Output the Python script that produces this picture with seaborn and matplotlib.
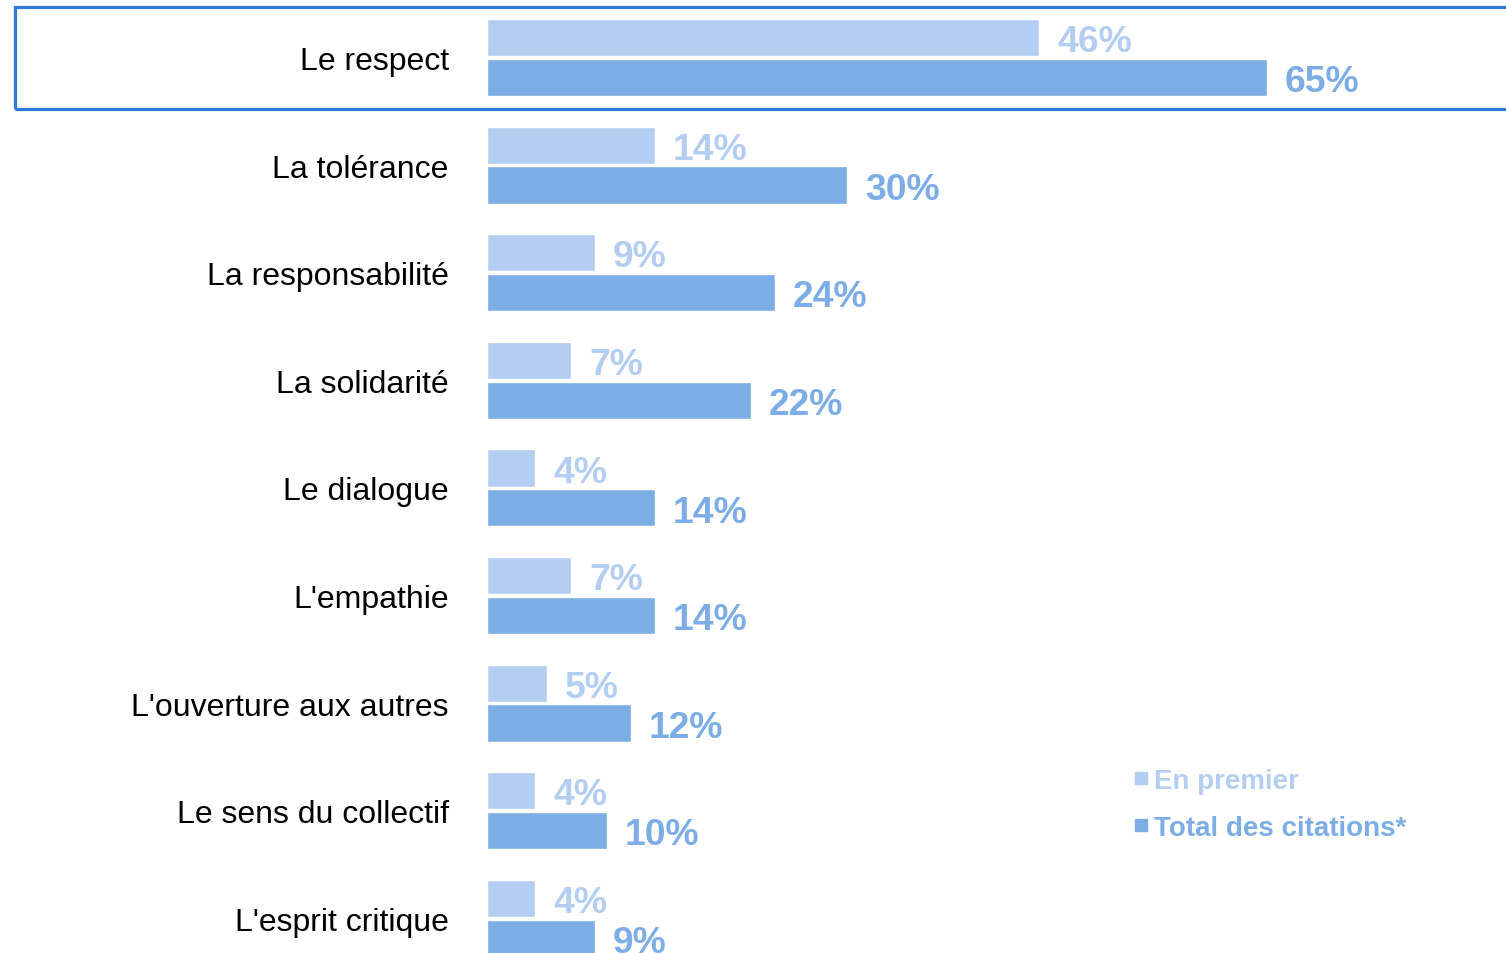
import matplotlib
matplotlib.use("Agg")
import matplotlib.pyplot as plt
import seaborn as sns
import pandas as pd
from matplotlib.lines import Line2D
from matplotlib.patches import Rectangle

categories = ["Le respect", "La tolérance", "La responsabilité", "La solidarité",
              "Le dialogue", "L'empathie", "L'ouverture aux autres",
              "Le sens du collectif", "L'esprit critique"]
en_premier = [46, 14, 9, 7, 4, 7, 5, 4, 4]
total_citations = [65, 30, 24, 22, 14, 14, 12, 10, 9]
series_names = ["En premier", "Total des citations*"]

LIGHT = "#B3CEF1"
DARK = "#7DADE6"
BOX = "#2F7AD6"

df = pd.DataFrame({
    "cat": categories * 2,
    "val": en_premier + total_citations,
    "serie": [series_names[0]] * len(categories) + [series_names[1]] * len(categories),
})

sns.set_theme(style="white")
plt.rcParams["font.family"] = ["Liberation Sans", "DejaVu Sans"]

W, H = 1506, 954
fig = plt.figure(figsize=(W / 100, H / 100), dpi=100)
ax_left = 487 / W
ax = fig.add_axes([ax_left, 0, 1 - ax_left, 1])

sns.barplot(data=df, y="cat", x="val", hue="serie", order=categories,
            hue_order=series_names, palette=[LIGHT, DARK], orient="h",
            width=0.743, gap=0.07, legend=False, ax=ax, saturation=1)

px_per_pct = 12.0
ax.set_xlim(0, (W - 487) / px_per_pct)
row_px = 107.6
c0 = 58.5
ax.set_ylim((H - c0) / row_px, -c0 / row_px)

for s in ax.spines.values():
    s.set_visible(False)
ax.set_xticks([])
ax.set_xlabel("")
ax.set_ylabel("")
ax.tick_params(axis="y", length=0, pad=27.5, labelsize=23, labelcolor="black")

for cont, color in zip(ax.containers, [LIGHT, DARK]):
    anns = ax.bar_label(cont, labels=[f"{int(v.get_width())}%" for v in cont],
                        padding=13, fontsize=26.8, fontweight="bold", color=color)
    for a in anns:
        a.xyann = (13, -3)

# highlight box around first row
fig.patches.append(Rectangle((15 / W, 1 - 110 / H), (W + 20) / W, 102 / H,
                             transform=fig.transFigure, fill=False,
                             edgecolor=BOX, linewidth=2.3, zorder=10))

handles = [Line2D([], [], marker="s", linestyle="none", markersize=8,
                  markerfacecolor=c, markeredgecolor=c) for c in [LIGHT, DARK]]
leg = fig.legend(handles, series_names, loc="upper left",
                 bbox_to_anchor=(1116 / W, 1 - 755 / H), frameon=False,
                 prop={"weight": "bold", "size": 20}, handletextpad=0.05,
                 handlelength=0.8, labelspacing=0.75, borderpad=0)
for t, c in zip(leg.get_texts(), [LIGHT, DARK]):
    t.set_color(c)

fig.savefig("out.png", dpi=100)
